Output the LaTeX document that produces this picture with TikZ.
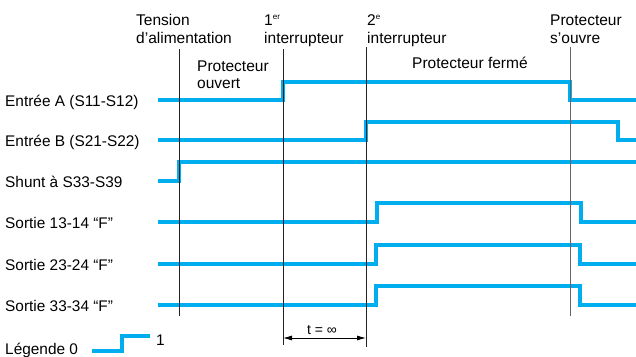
\documentclass[tikz,border=0pt]{standalone}
\usepackage{fontspec}
\setmainfont{Liberation Sans}
\usetikzlibrary{arrows.meta}
\definecolor{sig}{HTML}{00AEEF}
\definecolor{vline}{HTML}{222222}
\begin{document}
\begin{tikzpicture}[x=1pt,y=-1pt,
  signal/.style={sig,line width=3.2pt,line join=miter},
  marker/.style={vline,line width=0.9pt},
  lbl/.style={anchor=base west,inner sep=0pt,font=\fontsize{15.5}{18}\selectfont},
  rowlbl/.style={anchor=base west,inner sep=0pt,font=\fontsize{15.4}{17}\selectfont},
  small/.style={anchor=base,inner sep=0pt,font=\fontsize{14}{15}\selectfont}]
\useasboundingbox (0,0) rectangle (636,356);
% row labels
\node[rowlbl] (la) at (5,106.5) {Entrée A (S11-S12)};
\node[rowlbl] (lb) at (5,146.5) {Entrée B (S21-S22)};
\node[rowlbl] (ls) at (5,187) {Shunt à S33-S39};
\node[rowlbl] (l1) at (5,228) {Sortie 13-14 “F”};
\node[rowlbl] (l2) at (5,270) {Sortie 23-24 “F”};
\node[rowlbl] (l3) at (5,311) {Sortie 33-34 “F”};
\node[rowlbl] (lg) at (5,354) {Légende 0};
\node[rowlbl] (lg1) at (156,345) {1};
% top labels
\node[lbl] (t1) at (136,25) {Tension};
\node[lbl] (t1b) at (136,43) {d’alimentation};
\node[lbl] (t2) at (264,25) {1\raisebox{0.35em}{\fontsize{8}{8}\selectfont er}};
\node[lbl] (t2b) at (264,43) {interrupteur};
\node[lbl] (t3) at (367,25) {2\raisebox{0.35em}{\fontsize{8}{8}\selectfont e}};
\node[lbl] (t3b) at (367,43) {interrupteur};
\node[lbl] (t4) at (550,25) {Protecteur};
\node[lbl] (t4b) at (550,43) {s’ouvre};
\node[lbl] (po) at (197,71) {Protecteur};
\node[lbl] (pob) at (197,88) {ouvert};
\node[lbl] (pf) at (412,68) {Protecteur fermé};
% signals
\draw[signal] (158,100) -- (283,100) -- (283,82) -- (570,82) -- (570,100) -- (636,100);
\draw[signal] (158,140) -- (366,140) -- (366,122) -- (618,122) -- (618,140) -- (636,140);
\draw[signal] (158,181) -- (179,181) -- (179,162) -- (636,162);
\draw[signal] (158,222) -- (377,222) -- (377,203) -- (581,203) -- (581,222) -- (636,222);
\draw[signal] (158,264) -- (376,264) -- (376,245) -- (580,245) -- (580,264) -- (636,264);
\draw[signal] (158,305) -- (376,305) -- (376,286) -- (580,286) -- (580,305) -- (636,305);
\draw[signal] (92,351) -- (122,351) -- (122,336) -- (150,336);
% vertical markers
\coordinate (v1a) at (179,49); \coordinate (v1b) at (179,316);
\coordinate (v2a) at (283,49); \coordinate (v2b) at (283,345);
\coordinate (v3a) at (366,47); \coordinate (v3b) at (366,347);
\coordinate (v4a) at (570,47); \coordinate (v4b) at (570,316);
\draw[marker] (v1a) -- (v1b);
\draw[marker] (v2a) -- (v2b);
\draw[marker] (v3a) -- (v3b);
\draw[marker,draw=black!60] (v4a) -- (v4b);
% duration arrow
\coordinate (d1) at (283,338); \coordinate (d2) at (366,338);
\draw[line width=0.8pt,{Latex[length=9pt,width=5pt]}-{Latex[length=9pt,width=5pt]}] (d1) -- (d2);
\node[small] (tinf) at (322,334) {t = ∞};
\end{tikzpicture}
\end{document}
